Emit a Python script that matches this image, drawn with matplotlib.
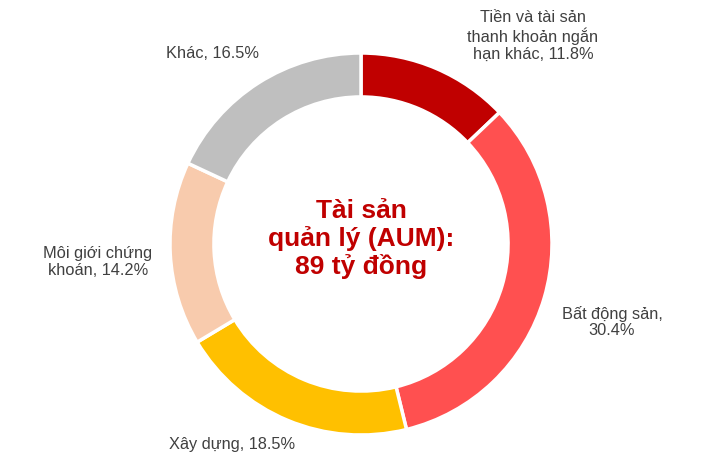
import matplotlib.pyplot as plt

plt.rcParams['font.family'] = ['Liberation Sans', 'DejaVu Sans']

labels = ['Tiền và tài sản\nthanh khoản ngắn\nhạn khác', 'Bất động sản,\n', 'Xây dựng, ',
          'Môi giới chứng\nkhoán, ', 'Khác, ']
shares = [11.8, 30.4, 18.5, 14.2, 16.5]
colors = ['#C00000', '#FF5050', '#FFC000', '#F8CBAD', '#BFBFBF']

# label centres in pixels of the 709x455 picture
label_px = [(533, 36), (612, 322), (232, 444), (98, 262), (213, 53)]

W, H = 709, 455
cx, cy, R = 361, 244, 191

fig = plt.figure(figsize=(W / 100, H / 100), dpi=100)
ax = fig.add_axes([0, 0, 1, 1])

ax.pie(shares, colors=colors, startangle=90, counterclock=False,
       radius=1, wedgeprops=dict(width=0.23, edgecolor='white', linewidth=2.5))

for lab, val, (px, py) in zip(labels, shares, label_px):
    if lab.startswith('Tiền'):
        txt = lab + ', %.1f%%' % val
    else:
        txt = lab + '%.1f%%' % val
    ax.text((px - cx) / R, (cy - py) / R, txt, ha='center', va='center',
            fontsize=11.8, color='#404040', linespacing=1.16)

ax.text(0, (cy - 239) / R, 'Tài sản\nquản lý (AUM):\n89 tỷ đồng', ha='center',
        va='center', fontsize=19, fontweight='bold', color='#C00000', linespacing=1.14)

ax.set_xlim(-cx / R, (W - cx) / R)
ax.set_ylim(-(H - cy) / R, cy / R)
ax.set_aspect('auto')
ax.axis('off')

fig.savefig('out.png', dpi=100)
